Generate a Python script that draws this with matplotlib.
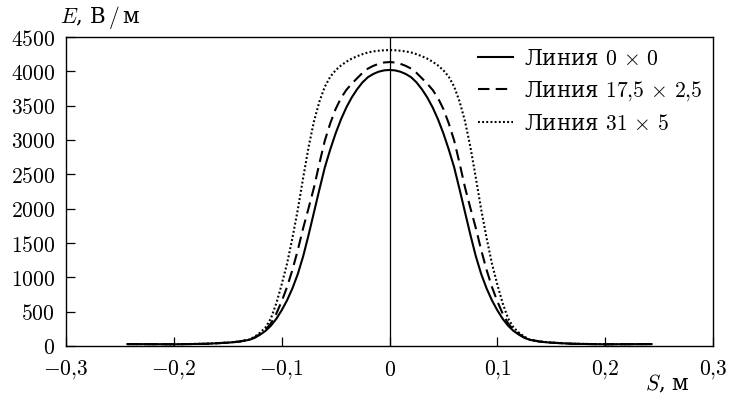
import matplotlib
matplotlib.use("Agg")
import matplotlib.pyplot as plt

plt.rcParams['mathtext.fontset'] = 'cm'
plt.rcParams['font.family'] = ['DejaVu Serif']
plt.rcParams['axes.unicode_minus'] = False

# S, m
s_vals = [-0.243, -0.20, -0.17, -0.15, -0.14, -0.13, -0.125, -0.12, -0.115, -0.11, -0.105,
          -0.10, -0.095, -0.09, -0.085, -0.08, -0.075, -0.07, -0.065, -0.06, -0.055,
          -0.05, -0.045, -0.04, -0.035, -0.03, -0.025, -0.02, -0.015, -0.01, -0.005,
          0.0,
          0.005, 0.01, 0.015, 0.02, 0.025, 0.03, 0.035, 0.04, 0.045, 0.05,
          0.055, 0.06, 0.065, 0.07, 0.075, 0.08, 0.085, 0.09, 0.095, 0.10,
          0.105, 0.11, 0.115, 0.12, 0.125, 0.13, 0.14, 0.15, 0.17, 0.20, 0.243]

# E, V/m
e_line_0x0 = [28, 25, 32, 48, 62, 90, 120, 165, 220, 295, 395,
              520, 665, 840, 1050, 1310, 1620, 1950, 2280, 2600, 2860,
              3095, 3300, 3475, 3620, 3740, 3840, 3915, 3962, 3995, 4014,
              4020,
              4014, 3995, 3962, 3915, 3840, 3740, 3620, 3475, 3300, 3095,
              2860, 2600, 2280, 1950, 1620, 1310, 1050, 840, 665, 520,
              395, 295, 220, 165, 120, 90, 62, 48, 32, 25, 28]
e_line_17_5x2_5 = [28, 25, 32, 49, 63, 92, 125, 175, 235, 330, 470,
                   650, 860, 1110, 1400, 1720, 2010, 2310, 2660, 2990, 3240,
                   3450, 3610, 3730, 3820, 3900, 3978, 4040, 4080, 4110, 4129,
                   4135,
                   4129, 4110, 4080, 4040, 3978, 3900, 3820, 3730, 3610, 3450,
                   3240, 2990, 2660, 2310, 2010, 1720, 1400, 1110, 860, 650,
                   470, 330, 235, 175, 125, 92, 63, 49, 32, 25, 28]
e_line_31x5 = [28, 25, 33, 50, 65, 95, 135, 195, 270, 400, 620,
               895, 1200, 1575, 1990, 2455, 2900, 3275, 3560, 3775, 3920,
               4015, 4085, 4140, 4185, 4220, 4250, 4275, 4290, 4300, 4307,
               4310,
               4307, 4300, 4290, 4275, 4250, 4220, 4185, 4140, 4085, 4015,
               3920, 3775, 3560, 3275, 2900, 2455, 1990, 1575, 1200, 895,
               620, 400, 270, 195, 135, 95, 65, 50, 33, 25, 28]

series_labels = ['Линия $0\\,\\times\\,0$', 'Линия $17{,}5\\,\\times\\,2{,}5$', 'Линия $31\\,\\times\\,5$']

x_ticks = [-0.3, -0.2, -0.1, 0.0, 0.1, 0.2, 0.3]
x_tick_labels = ['$-0{,}3$', '$-0{,}2$', '$-0{,}1$', '$0$', '$0{,}1$', '$0{,}2$', '$0{,}3$']
y_ticks = [0, 500, 1000, 1500, 2000, 2500, 3000, 3500, 4000, 4500]
y_tick_labels = ['$%d$' % v for v in y_ticks]

fig = plt.figure(figsize=(7.35, 3.98), dpi=100)
ax = fig.add_axes([66/735, 1 - 346/398, (713-66)/735, (346-37)/398])

lw = 1.5
ax.plot(s_vals, e_line_0x0, color='black', lw=lw, linestyle='-', label=series_labels[0])
ax.plot(s_vals, e_line_17_5x2_5, color='black', lw=lw, linestyle=(0, (5.5, 3.0)), label=series_labels[1])
ax.plot(s_vals, e_line_31x5, color='black', lw=lw, linestyle=(0, (0.9, 1.1)), label=series_labels[2])

ax.axvline(0, color='black', lw=0.9)

ax.set_xlim(-0.3, 0.3)
ax.set_ylim(0, 4500)
ax.set_xticks(x_ticks, x_tick_labels)
ax.set_yticks(y_ticks, y_tick_labels)
ax.tick_params(direction='in', length=6.5, width=0.9, labelsize=15.5, top=False, right=False)
ax.tick_params(axis='x', pad=9)
ax.tick_params(axis='y', pad=8)
for sp in ax.spines.values():
    sp.set_linewidth(1.0)

fig.text(60/735, 1 - 23/398, '$E$, В$\\,/\\,$м', fontsize=15.5, ha='left', va='baseline')
fig.text(645/735, 1 - 390/398, '$S$, м', fontsize=15.5, ha='left', va='baseline')

leg = ax.legend(loc='upper right', frameon=False, fontsize=15.5, handlelength=1.6,
                handletextpad=0.5, labelspacing=0.45, borderaxespad=0.1)

fig.savefig('out.png', dpi=100)
